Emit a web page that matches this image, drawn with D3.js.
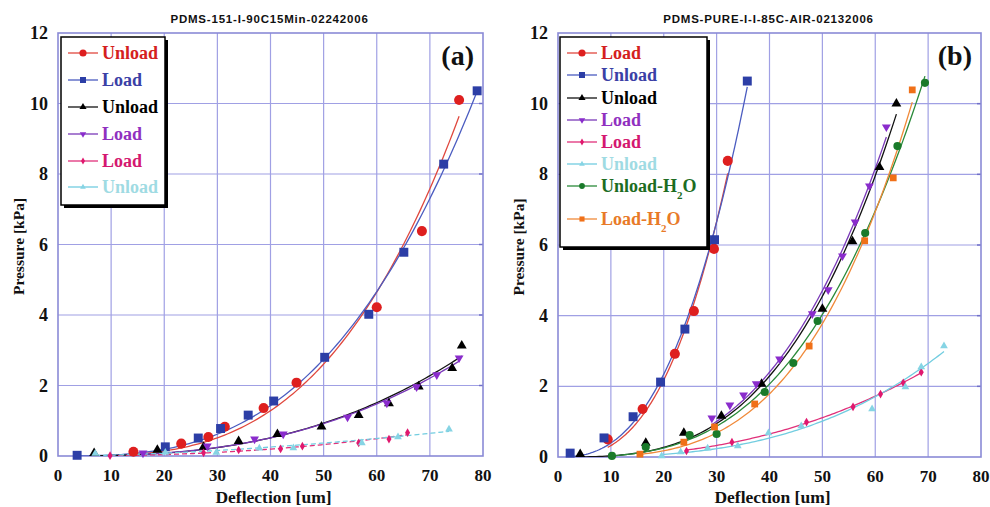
<!DOCTYPE html>
<html>
<head>
<meta charset="utf-8">
<script src="https://cdn.jsdelivr.net/npm/d3@7/dist/d3.min.js"></script>
<style>
  html, body { margin: 0; padding: 0; background: #fff; }
  svg { display: block; }
  .tick-label { font: bold 17px "Liberation Serif", "Times New Roman", serif; fill: #111; }
  .tick-label.y { font-size: 18px; }
  .axis-title { font: bold 17.5px "Liberation Serif", "Times New Roman", serif; fill: #111; }
  .axis-title.y { font-size: 15.5px; }
  .chart-title { font: bold 11.5px "Liberation Sans", Arial, sans-serif; fill: #111; letter-spacing: 0.8px; }
  .panel-tag { font: bold 28px "Liberation Serif", "Times New Roman", serif; fill: #111; }
  .legend-text { font: bold 18px "Liberation Serif", "Times New Roman", serif; }
</style>
</head>
<body>
<div id="chart"></div>
<script>
// 軸刻度
const xTickValues = [0, 10, 20, 30, 40, 50, 60, 70, 80];
const yTickValues = [0, 2, 4, 6, 8, 10, 12];

// (a) PDMS-151-I-90C15Min-02242006 — [deflection um, pressure kPa]
const aRedUnload = [[14.2, 0.12], [23.2, 0.35], [28.3, 0.54], [31.4, 0.83], [38.7, 1.36], [44.9, 2.08], [60.0, 4.22], [68.5, 6.38], [75.5, 10.1]];
const aBlueLoad = [[3.6, 0.02], [20.2, 0.26], [26.4, 0.51], [30.6, 0.78], [35.8, 1.16], [40.6, 1.56], [50.2, 2.8], [58.5, 4.02], [65.1, 5.78], [72.6, 8.28], [78.9, 10.36]];
const aBlackUnload = [[6.8, 0.08], [18.7, 0.17], [27.4, 0.26], [34.0, 0.42], [41.3, 0.62], [49.6, 0.83], [56.6, 1.16], [62.3, 1.49], [67.9, 1.97], [74.2, 2.49], [76.0, 3.13]];
const aPurpleLoad = [[16.0, 0.08], [28.1, 0.28], [37.0, 0.48], [42.4, 0.62], [54.5, 1.1], [61.9, 1.5], [67.5, 1.96], [71.3, 2.3], [75.5, 2.78]];
const aPinkLoad = [[9.8, 0.01], [27.4, 0.09], [34.0, 0.17], [41.9, 0.2], [46.0, 0.28], [56.6, 0.37], [62.3, 0.48], [65.8, 0.66]];
const aCyanUnload = [[7.0, 0.07], [20.2, 0.1], [29.8, 0.1], [37.9, 0.22], [44.3, 0.23], [57.2, 0.37], [64.0, 0.54], [73.6, 0.76]];
const aLabels = ["Unload", "Load", "Unload", "Load", "Load", "Unload"];

// (b) PDMS-PURE-I-I-85C-AIR-02132006
const bRedLoad = [[9.4, 0.5], [16.0, 1.36], [22.1, 2.92], [25.7, 4.13], [29.5, 5.89], [32.1, 8.38]];
const bBlueUnload = [[2.3, 0.11], [8.7, 0.54], [14.2, 1.14], [19.4, 2.12], [24.0, 3.62], [29.6, 6.15], [35.8, 10.64]];
const bBlackUnload = [[4.2, 0.08], [16.6, 0.4], [23.8, 0.68], [30.9, 1.16], [38.5, 2.07], [50.0, 4.19], [55.7, 6.1], [60.8, 8.2], [64.0, 10.0]];
const bPurpleLoad = [[29.1, 1.1], [32.5, 1.47], [35.1, 1.75], [37.5, 2.07], [41.9, 2.77], [48.1, 4.05], [51.1, 4.73], [53.8, 5.69], [56.2, 6.65], [58.9, 7.67], [62.1, 9.34]];
const bPinkLoad = [[24.3, 0.17], [32.9, 0.42], [47.0, 0.99], [55.8, 1.42], [61.0, 1.78], [65.3, 2.1], [68.7, 2.4]];
const bCyanUnload = [[19.6, 0.03], [23.2, 0.14], [28.3, 0.25], [34.0, 0.31], [39.8, 0.68], [46.0, 0.88], [59.4, 1.36], [65.7, 1.98], [68.7, 2.55], [73.0, 3.14]];
const bGreenUnloadH2O = [[10.2, 0.03], [16.6, 0.28], [24.9, 0.62], [30.0, 0.65], [39.1, 1.84], [44.5, 2.66], [49.1, 3.85], [58.1, 6.34], [64.2, 8.8], [69.4, 10.59]];
const bOrangeLoadH2O = [[15.5, 0.08], [23.8, 0.42], [29.6, 0.85], [37.2, 1.5], [47.5, 3.14], [58.0, 6.12], [63.4, 7.9], [67.0, 10.39]];
const bLabels = ["Load", "Unload", "Unload", "Load", "Load", "Unload", "Unload-H2O", "Load-H2O"];

// 樣式
const STY = {
  red:    { line: "#e0483e", fill: "#de1f1f", text: "#d42020", sym: d3.symbolCircle, size: 80, legendSize: 40 },
  blue:   { line: "#4b5cc0", fill: "#2c3ea6", text: "#3a40a6", sym: d3.symbolSquare, size: 80, legendSize: 36 },
  black:  { line: "#111111", fill: "#000000", text: "#000000", sym: d3.symbolTriangle, size: 42, legendSize: 22 },
  purple: { line: "#7a3ab8", fill: "#8a2ccc", text: "#9030c0", sym: d3.symbolTriangle, rot: 180, size: 34, legendSize: 18 },
  pink:   { line: "#e0307a", fill: "#e0186e", text: "#d41870", sym: d3.symbolDiamond, size: 22, legendSize: 14 },
  cyan:   { line: "#72cde0", fill: "#86d4e4", text: "#9fdbe3", sym: d3.symbolTriangle, size: 26, legendSize: 14 },
  green:  { line: "#2a8a3a", fill: "#1a7a2a", text: "#1c6c22", sym: d3.symbolCircle, size: 52, legendSize: 26 },
  orange: { line: "#f08a3a", fill: "#f07018", text: "#e87a28", sym: d3.symbolSquare, size: 46, legendSize: 26 }
};

const panels = [
  {
    id: "a", title: "PDMS-151-I-90C15Min-02242006", tag: "(a)",
    box: { left: 58, right: 483, top: 33, bottom: 456 },
    legend: { x: 61, y: 37, w: 104, h: 168, rowY: [53, 80, 107, 134, 161, 187] },
    series: [
      { data: aRedUnload, s: STY.red },
      { data: aBlueLoad, s: STY.blue },
      { data: aBlackUnload, s: STY.black },
      { data: aPurpleLoad, s: STY.purple },
      { data: aPinkLoad, s: STY.pink, dash: "5,3" },
      { data: aCyanUnload, s: STY.cyan, dash: "5,3" }
    ],
    labels: aLabels
  },
  {
    id: "b", title: "PDMS-PURE-I-I-85C-AIR-02132006", tag: "(b)",
    box: { left: 558, right: 981, top: 33, bottom: 457 },
    legend: { x: 560, y: 37, w: 147, h: 210, rowY: [53, 75, 98, 120, 142, 164, 186, 219] },
    series: [
      { data: bRedLoad, s: STY.red },
      { data: bBlueUnload, s: STY.blue },
      { data: bBlackUnload, s: STY.black },
      { data: bPurpleLoad, s: STY.purple },
      { data: bPinkLoad, s: STY.pink },
      { data: bCyanUnload, s: STY.cyan },
      { data: bGreenUnloadH2O, s: STY.green },
      { data: bOrangeLoadH2O, s: STY.orange }
    ],
    labels: bLabels
  }
];

// 冪次趨勢線 y = a·x^b（以 y² 加權的對數最小平方）
function powerFit(pts) {
  let sw = 0, sx = 0, sy = 0, sxx = 0, sxy = 0;
  for (const [xv, yv] of pts) {
    if (xv <= 0 || yv <= 0) continue;
    const w = yv * yv, lx = Math.log(xv), ly = Math.log(yv);
    sw += w; sx += w * lx; sy += w * ly; sxx += w * lx * lx; sxy += w * lx * ly;
  }
  const b = (sw * sxy - sx * sy) / (sw * sxx - sx * sx);
  const c = (sy - b * sx) / sw;
  return (xv) => Math.exp(c) * Math.pow(xv, b);
}

const svg = d3.select("#chart").append("svg")
  .attr("width", 990).attr("height", 507)
  .attr("viewBox", "0 0 990 507");

panels.forEach((p) => {
  const { left, right, top, bottom } = p.box;
  const x = d3.scaleLinear().domain([0, 80]).range([left, right]);
  const y = d3.scaleLinear().domain([0, 12]).range([bottom, top]);
  const g = svg.append("g").attr("class", "panel-" + p.id);

  g.append("clipPath").attr("id", "clip-" + p.id)
    .append("rect").attr("x", left).attr("y", top)
    .attr("width", right - left).attr("height", bottom - top);

  // 格線
  g.append("g").selectAll("line").data(xTickValues.slice(1, -1)).join("line")
    .attr("x1", (d) => x(d)).attr("x2", (d) => x(d))
    .attr("y1", top).attr("y2", bottom)
    .attr("stroke", "#a0a0e4").attr("stroke-width", 1.2);
  g.append("g").selectAll("line").data(yTickValues.slice(1, -1)).join("line")
    .attr("x1", left).attr("x2", right)
    .attr("y1", (d) => y(d)).attr("y2", (d) => y(d))
    .attr("stroke", "#a0a0e4").attr("stroke-width", 1.2);

  // 右側小刻度
  g.append("g").selectAll("line").data(yTickValues.slice(1, -1)).join("line")
    .attr("x1", right - 4).attr("x2", right)
    .attr("y1", (d) => y(d)).attr("y2", (d) => y(d))
    .attr("stroke", "#7070c8").attr("stroke-width", 1.5);

  g.append("rect")
    .attr("x", left).attr("y", top)
    .attr("width", right - left).attr("height", bottom - top)
    .attr("fill", "none").attr("stroke", "#8a8ad6").attr("stroke-width", 1.6);

  // 刻度文字
  g.append("g").selectAll("text").data(xTickValues).join("text")
    .attr("class", "tick-label")
    .attr("x", (d) => x(d)).attr("y", bottom + 25)
    .attr("text-anchor", "middle").text((d) => d);
  g.append("g").selectAll("text").data(yTickValues).join("text")
    .attr("class", "tick-label y")
    .attr("x", left - 10).attr("y", (d) => y(d) + 6)
    .attr("text-anchor", "end").text((d) => d);

  // 軸標題
  g.append("text").attr("class", "axis-title")
    .attr("x", (left + right) / 2 + 3).attr("y", 503)
    .attr("text-anchor", "middle").text("Deflection [um]");
  g.append("text").attr("class", "axis-title y")
    .attr("transform", `translate(${left - 34},${(top + bottom) / 2 + 2}) rotate(-90)`)
    .attr("text-anchor", "middle").text("Pressure [kPa]");
  g.append("text").attr("class", "chart-title")
    .attr("x", (left + right) / 2 - 1).attr("y", 23)
    .attr("text-anchor", "middle").text(p.title);
  g.append("text").attr("class", "panel-tag")
    .attr("x", right - 9).attr("y", top + 32)
    .attr("text-anchor", "end").text(p.tag);

  // 趨勢線
  const line = d3.line().x((d) => x(d[0])).y((d) => y(d[1]));
  const fits = g.append("g").attr("clip-path", `url(#clip-${p.id})`);
  p.series.forEach((ser) => {
    const f = powerFit(ser.data);
    const [x0, x1] = d3.extent(ser.data, (d) => d[0]);
    const pts = d3.range(0, 101).map((i) => {
      const xv = x0 + (x1 - x0) * i / 100;
      return [xv, f(xv)];
    });
    fits.append("path")
      .attr("d", line(pts))
      .attr("fill", "none")
      .attr("stroke", ser.s.line)
      .attr("stroke-width", 1.3)
      .attr("stroke-dasharray", ser.dash || null);
  });

  // 資料點
  p.series.forEach((ser) => {
    const sym = d3.symbol().type(ser.s.sym).size(ser.s.size);
    g.append("g").selectAll("path").data(ser.data).join("path")
      .attr("d", sym)
      .attr("transform", (d) => `translate(${x(d[0])},${y(d[1])}) rotate(${ser.s.rot || 0})`)
      .attr("fill", ser.s.fill);
  });

  // 圖例
  const L = p.legend;
  g.append("rect").attr("x", L.x + 3).attr("y", L.y + 3)
    .attr("width", L.w).attr("height", L.h).attr("fill", "#000");
  g.append("rect").attr("x", L.x).attr("y", L.y)
    .attr("width", L.w).attr("height", L.h)
    .attr("fill", "#fff").attr("stroke", "#000").attr("stroke-width", 1.5);
  p.series.forEach((ser, i) => {
    const ry = L.rowY[i];
    const lx = L.x + 7;
    g.append("line").attr("x1", lx).attr("x2", lx + 30)
      .attr("y1", ry).attr("y2", ry)
      .attr("stroke", ser.s.line).attr("stroke-width", 1.3);
    g.append("path")
      .attr("d", d3.symbol().type(ser.s.sym).size(ser.s.legendSize))
      .attr("transform", `translate(${lx + 15},${ry}) rotate(${ser.s.rot || 0})`)
      .attr("fill", ser.s.fill);
    const label = p.labels[i];
    const t = g.append("text").attr("class", "legend-text")
      .attr("x", lx + 34).attr("y", ry + 6).attr("fill", ser.s.text);
    if (label.endsWith("H2O")) {
      t.append("tspan").text(label.slice(0, -3) + "H");
      t.append("tspan").attr("dy", 7).attr("font-size", 11).text("2");
      t.append("tspan").attr("dy", -7).text("O");
    } else {
      t.text(label);
    }
  });
});
</script>
</body>
</html>
